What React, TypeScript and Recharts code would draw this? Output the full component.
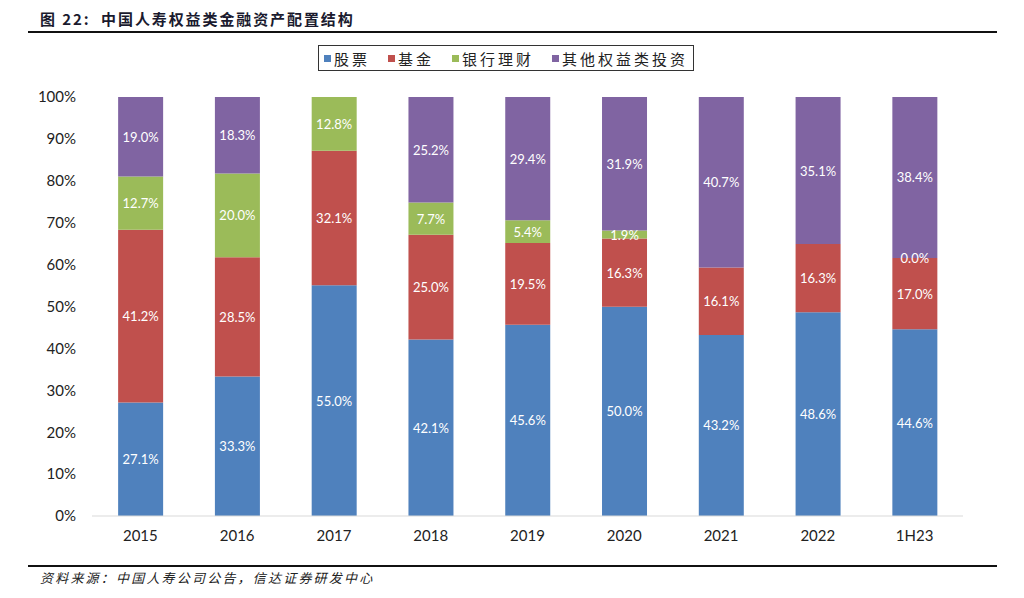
import { BarChart, Bar, XAxis, YAxis, LabelList, Legend, Rectangle } from 'recharts';

const years = ['2015', '2016', '2017', '2018', '2019', '2020', '2021', '2022', '1H23'];
const stocks = [27.1, 33.3, 55.0, 42.1, 45.6, 50.0, 43.2, 48.6, 44.6];
const funds = [41.2, 28.5, 32.1, 25.0, 19.5, 16.3, 16.1, 16.3, 17.0];
const bankWm = [12.7, 20.0, 12.8, 7.7, 5.4, 1.9, null, null, 0.0];
const otherEquity = [19.0, 18.3, null, 25.2, 29.4, 31.9, 40.7, 35.1, 38.4];
const yTicks = [0, 0.1, 0.2, 0.3, 0.4, 0.5, 0.6, 0.7, 0.8, 0.9, 1];

const series = [
  { key: 'stock', name: '股票', color: '#4F81BD', values: stocks },
  { key: 'fund', name: '基金', color: '#C0504D', values: funds },
  { key: 'bank', name: '银行理财', color: '#9BBB59', values: bankWm },
  { key: 'other', name: '其他权益类投资', color: '#8064A2', values: otherEquity },
];

const data = years.map((y, i) => {
  const row: Record<string, string | number | null> = { year: y };
  series.forEach((s) => {
    row[s.key] = s.values[i];
  });
  return row;
});

const latin = 'Lato, "Noto Sans", sans-serif';
const cjk = '"Noto Sans CJK SC", sans-serif';

const labelText = (x: number, y: number, value: number) => (
  <text x={x} y={y} dy={5} textAnchor="middle" fill="#fff" fontSize={13} fontFamily={latin}>
    {value.toFixed(1)}%
  </text>
);

const renderLabel = (props: any) => {
  const { x, y, width, height, value } = props;
  if (value === null || value === undefined || !height) return null;
  return labelText(x + width / 2, y + height / 2, Number(value));
};

// a zero green segment has no rect, so its "0.0%" goes at the base of the purple one
const otherShape = (props: any) => {
  const { x, y, width, height, payload } = props;
  return (
    <g>
      <Rectangle {...props} />
      {payload && payload.bank === 0 && labelText(x + width / 2, y + height, 0)}
    </g>
  );
};

const LegendBox = () => (
  <div
    style={{
      position: 'absolute',
      left: 318,
      top: 45,
      width: 376,
      height: 26,
      border: '1px solid #333',
      boxSizing: 'border-box',
      display: 'flex',
      alignItems: 'center',
      justifyContent: 'center',
      gap: 18,
      fontFamily: cjk,
      fontSize: 15,
      color: '#222',
      background: '#fff',
      whiteSpace: 'nowrap',
    }}
  >
    {series.map((s) => (
      <span key={s.key} style={{ display: 'flex', alignItems: 'center', letterSpacing: 3 }}>
        <span style={{ width: 7, height: 7, background: s.color, marginRight: 3, display: 'inline-block' }} />
        {s.name}
      </span>
    ))}
  </div>
);

export default function App() {
  return (
    <div style={{ position: 'absolute', left: 0, top: 0, width: 1024, height: 598, background: '#fff' }}>
      <div
        style={{
          position: 'absolute',
          left: 40,
          top: 8,
          fontFamily: cjk,
          fontWeight: 'bold',
          fontSize: 15,
          color: '#1a1a2e',
          letterSpacing: 1.9,
          whiteSpace: 'nowrap',
        }}
      >
        图 22:&nbsp; 中国人寿权益类金融资产配置结构
      </div>
      <div style={{ position: 'absolute', left: 28, top: 31, width: 969, height: 2, background: '#111' }} />
      <BarChart
        width={1024}
        height={598}
        data={data}
        stackOffset="expand"
        barCategoryGap="27%"
        margin={{ top: 97, right: 61, bottom: 52, left: 0 }}
      >
        <XAxis
          dataKey="year"
          axisLine={{ stroke: '#d9d9d9' }}
          tickLine={false}
          tickSize={0}
          tickMargin={14}
          height={30}
          tick={{ fill: '#222', fontSize: 15, fontFamily: latin }}
        />
        <YAxis
          type="number"
          domain={[0, 1]}
          ticks={yTicks}
          width={92}
          axisLine={false}
          tickLine={false}
          tickSize={0}
          tickMargin={16}
          tickFormatter={(v: number) => `${Math.round(v * 100)}%`}
          tick={{ fill: '#222', fontSize: 15, fontFamily: latin }}
        />
        <Legend content={() => <LegendBox />} wrapperStyle={{ position: 'absolute', left: 0, top: 0 }} />
        {series.map((s) => (
          <Bar
            key={s.key}
            dataKey={s.key}
            name={s.name}
            stackId="a"
            fill={s.color}
            isAnimationActive={false}
            shape={s.key === 'other' ? otherShape : undefined}
          >
            <LabelList dataKey={s.key} content={renderLabel} />
          </Bar>
        ))}
      </BarChart>
      <div style={{ position: 'absolute', left: 28, top: 565, width: 969, height: 2, background: '#111' }} />
      <div
        style={{
          position: 'absolute',
          left: 40,
          top: 568,
          fontFamily: cjk,
          fontStyle: 'italic',
          fontSize: 13,
          color: '#222',
          letterSpacing: 2.2,
        }}
      >
        资料来源：中国人寿公司公告，信达证券研发中心
      </div>
    </div>
  );
}
